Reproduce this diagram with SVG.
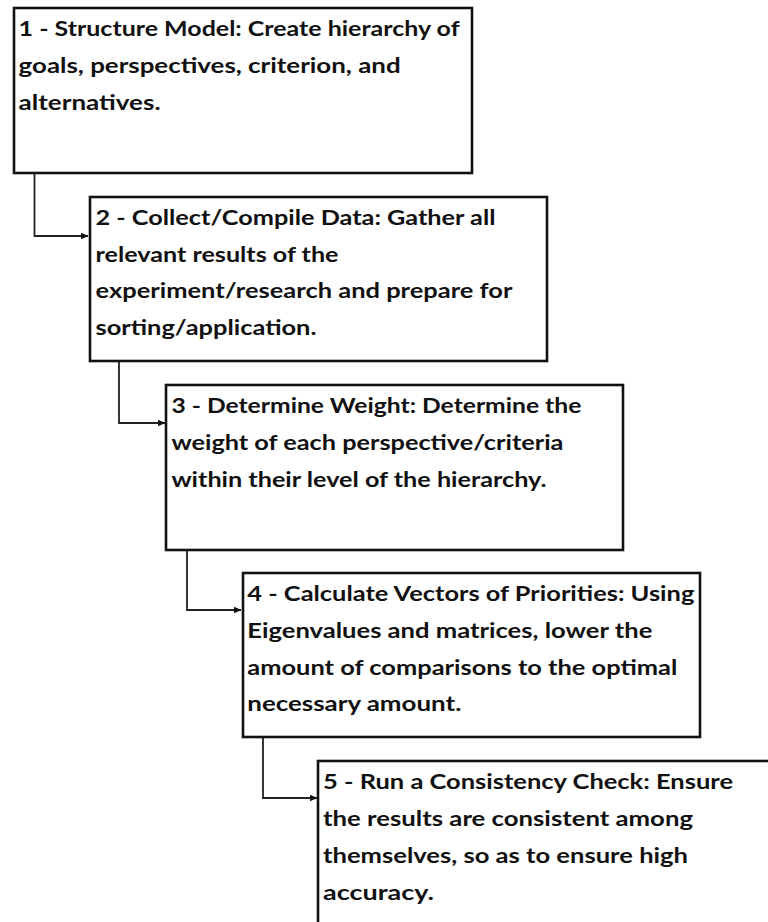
<svg xmlns="http://www.w3.org/2000/svg" width="768" height="922" viewBox="0 0 768 922">
<style>
.box{fill:#fff;stroke:#111;stroke-width:2.6}
.t{font-family:Lato,"Liberation Sans",sans-serif;font-weight:700;font-size:21px;fill:#111}
.c{fill:none;stroke:#222;stroke-width:1.8}
</style>
<defs>
<marker id="ah" markerWidth="8" markerHeight="8" refX="7.5" refY="4" orient="auto" markerUnits="userSpaceOnUse">
<path d="M0,0.5 L8,4 L0,7.5 Z" fill="#111"/>
</marker>
</defs>
<rect width="768" height="922" fill="#fff"/>
<g id="connectors">
<path class="c" d="M34.5,173 V236 H88" marker-end="url(#ah)"/>
<path class="c" d="M119,361 V423 H165" marker-end="url(#ah)"/>
<path class="c" d="M187,550 V610 H241" marker-end="url(#ah)"/>
<path class="c" d="M263,737 V798 H317" marker-end="url(#ah)"/>
</g>
<g id="node1">
<rect class="box" x="14" y="8" width="458" height="165"/>
<text class="t" x="18.6" y="36" textLength="441" lengthAdjust="spacingAndGlyphs">1 - Structure Model: Create hierarchy of</text>
<text class="t" x="18.6" y="73" textLength="382" lengthAdjust="spacingAndGlyphs">goals, perspectives, criterion, and</text>
<text class="t" x="18.6" y="110" textLength="142" lengthAdjust="spacingAndGlyphs">alternatives.</text>
</g>
<g id="node2">
<rect class="box" x="90" y="197" width="457" height="164"/>
<text class="t" x="95.5" y="225" textLength="400" lengthAdjust="spacingAndGlyphs">2 - Collect/Compile Data: Gather all</text>
<text class="t" x="95.5" y="262" textLength="243" lengthAdjust="spacingAndGlyphs">relevant results of the</text>
<text class="t" x="95.5" y="298" textLength="417" lengthAdjust="spacingAndGlyphs">experiment/research and prepare for</text>
<text class="t" x="95.5" y="335" textLength="221" lengthAdjust="spacingAndGlyphs">sorting/application.</text>
</g>
<g id="node3">
<rect class="box" x="166" y="385" width="457" height="165"/>
<text class="t" x="171.4" y="413" textLength="410" lengthAdjust="spacingAndGlyphs">3 - Determine Weight: Determine the</text>
<text class="t" x="171.4" y="450" textLength="392" lengthAdjust="spacingAndGlyphs">weight of each perspective/criteria</text>
<text class="t" x="171.4" y="487" textLength="375" lengthAdjust="spacingAndGlyphs">within their level of the hierarchy.</text>
</g>
<g id="node4">
<rect class="box" x="243" y="573" width="457" height="164"/>
<text class="t" x="247.3" y="601" textLength="447" lengthAdjust="spacingAndGlyphs">4 - Calculate Vectors of Priorities: Using</text>
<text class="t" x="247.3" y="638" textLength="405" lengthAdjust="spacingAndGlyphs">Eigenvalues and matrices, lower the</text>
<text class="t" x="247.3" y="675" textLength="430" lengthAdjust="spacingAndGlyphs">amount of comparisons to the optimal</text>
<text class="t" x="247.3" y="711" textLength="214" lengthAdjust="spacingAndGlyphs">necessary amount.</text>
</g>
<g id="node5">
<rect class="box" x="318" y="761" width="470" height="190"/>
<text class="t" x="323" y="789" textLength="410" lengthAdjust="spacingAndGlyphs">5 - Run a Consistency Check: Ensure</text>
<text class="t" x="323" y="826" textLength="370" lengthAdjust="spacingAndGlyphs">the results are consistent among</text>
<text class="t" x="323" y="863" textLength="365" lengthAdjust="spacingAndGlyphs">themselves, so as to ensure high</text>
<text class="t" x="323" y="900" textLength="111" lengthAdjust="spacingAndGlyphs">accuracy.</text>
</g>
</svg>
